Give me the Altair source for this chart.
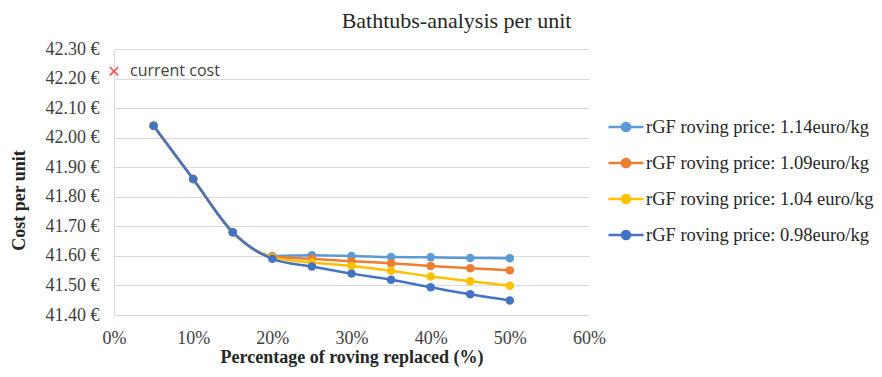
import altair as alt
import pandas as pd

pct = [5, 10, 15, 20, 25, 30, 35, 40, 45, 50]
series_names = [
    "rGF roving price: 1.14euro/kg",
    "rGF roving price: 1.09euro/kg",
    "rGF roving price: 1.04 euro/kg",
    "rGF roving price: 0.98euro/kg",
]
colors = ["#5B9BD5", "#ED7D31", "#FFC000", "#4472C4"]
cost_114 = [42.04, 41.86, 41.68, 41.600, 41.602, 41.600, 41.596, 41.595, 41.593, 41.592]
cost_109 = [42.04, 41.86, 41.68, 41.598, 41.590, 41.582, 41.575, 41.566, 41.558, 41.551]
cost_104 = [42.04, 41.86, 41.68, 41.595, 41.578, 41.566, 41.550, 41.530, 41.514, 41.499]
cost_098 = [42.04, 41.86, 41.68, 41.590, 41.564, 41.540, 41.519, 41.494, 41.470, 41.449]
all_costs = [cost_114, cost_109, cost_104, cost_098]
y_ticks = [41.4, 41.5, 41.6, 41.7, 41.8, 41.9, 42.0, 42.1, 42.2, 42.3]
x_ticks = [0, 10, 20, 30, 40, 50, 60]

current_pct = [0]
current_cost = [42.225]
current_label = ["current cost"]

rows = []
for name, vals in zip(series_names, all_costs):
    for p, v in zip(pct, vals):
        rows.append({"pct": p, "cost": v, "series": name})
df = pd.DataFrame(rows)
cur = pd.DataFrame({"pct": current_pct, "cost": current_cost, "label": current_label})

serif = "Liberation Serif"
xscale = alt.Scale(domain=[0, 60], nice=False)
yscale = alt.Scale(domain=[41.4, 42.3], nice=False, zero=False)

x_enc = alt.X(
    "pct:Q", scale=xscale,
    axis=alt.Axis(
        title="Percentage of roving replaced (%)", values=x_ticks,
        labelExpr="datum.value + '%'", grid=False, ticks=False, domainColor="#D9D9D9",
        labelFont=serif, labelFontSize=18, labelColor="#404040", labelPadding=14,
        labelOverlap=False, labelFlush=False,
        titleFont=serif, titleFontSize=18, titleFontWeight="bold", titleColor="#262626",
        titlePadding=1,
    ),
)
y_enc = alt.Y(
    "cost:Q", scale=yscale,
    axis=alt.Axis(
        title="Cost per unit", values=y_ticks,
        labelExpr="format(datum.value, '.2f') + ' €'", grid=True, gridColor="#D9D9D9",
        ticks=False, domainColor="#D9D9D9", labelOverlap=False, labelFlush=False,
        labelFont=serif, labelFontSize=18, labelColor="#404040", labelPadding=15,
        titleFont=serif, titleFontSize=18, titleFontWeight="bold", titleColor="#262626",
        titleX=-95, titleY=151, titleBaseline="middle", titleAlign="center", titleAngle=270,
    ),
)

color_scale = alt.Scale(domain=series_names, range=colors)
legend_symbol = "M-1,0L1,0M-0.23,0A0.23,0.23,0,1,1,0.23,0A0.23,0.23,0,1,1,-0.23,0Z"
color_enc = alt.Color(
    "series:N", scale=color_scale,
    legend=alt.Legend(
        title=None, orient="none", legendX=493, legendY=59,
        symbolType=legend_symbol, symbolSize=1225, symbolStrokeWidth=2.5,
        labelFont=serif, labelFontSize=18.5, labelColor="#262626",
        rowPadding=7, labelOffset=1, labelLimit=400,
    ),
)

layers = []
for name in series_names:
    sub = df[df["series"] == name]
    base = alt.Chart(sub)
    line = base.mark_line(interpolate="monotone", strokeWidth=2.5).encode(
        x=x_enc, y=y_enc, color=color_enc,
    )
    pts = base.mark_circle(size=72, opacity=1).encode(
        x=x_enc, y=y_enc, color=color_enc,
    )
    layers += [line, pts]

cur_base = alt.Chart(cur)
cur_mark = cur_base.mark_point(
    shape="M-1,-1L1,1M1,-1L-1,1", size=70, filled=False, color="#FF4B4B", strokeWidth=1.5, opacity=1
).encode(x=x_enc, y=y_enc)
cur_text = cur_base.mark_text(
    align="left", baseline="middle", dx=16, font="Open Sans", fontSize=16, color="#404040"
).encode(x=x_enc, y=y_enc, text="label:N")

chart = alt.layer(*layers, cur_mark, cur_text).properties(
    width=475, height=266,
    padding={"left": 106, "top": 41, "right": 285, "bottom": 54},
    autosize=alt.AutoSizeParams(type="none"),
    title=alt.TitleParams(
        "Bathtubs-analysis per unit", font=serif, fontSize=22, fontWeight="normal",
        color="#262626", anchor="middle", dx=105, offset=7,
    ),
).configure_view(stroke=None)

chart.save("out.html", embed_options={"renderer": "svg", "actions": False})
